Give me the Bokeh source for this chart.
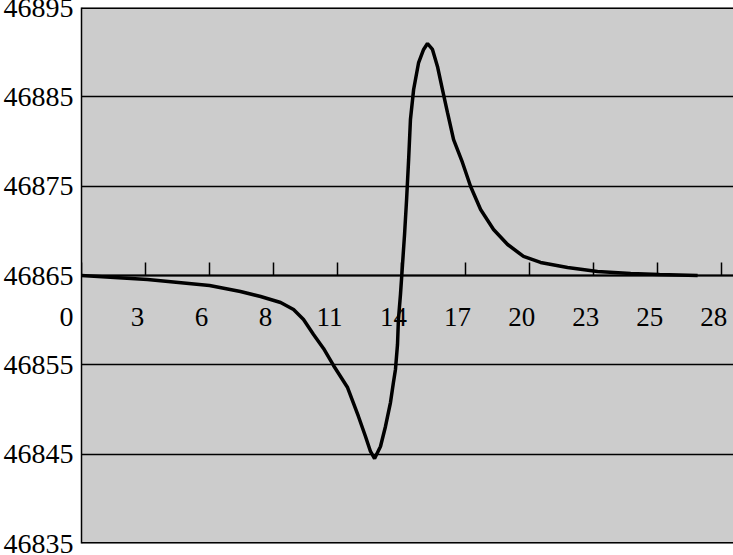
from bokeh.plotting import figure
from bokeh.models import LinearAxis, FixedTicker, Range1d, LabelSet, ColumnDataSource
from bokeh.embed import file_html
from bokeh.resources import INLINE

# curve
x_vals = [0.00, 2.91, 5.64, 7.00, 7.89, 8.77, 9.34, 9.78, 10.22, 10.66, 11.10, 11.72,
          12.20, 12.51, 12.73, 12.91, 13.17, 13.39, 13.61, 13.74, 13.83, 13.92, 13.96,
          14.05, 14.14, 14.23, 14.32, 14.41, 14.49, 14.63, 14.85, 15.07, 15.24, 15.46,
          15.68, 15.90, 16.12, 16.39, 16.78, 17.14, 17.58, 18.15, 18.77, 19.47, 20.22,
          21.41, 22.73, 24.19, 25.46, 27.14]
y_vals = [46865.00, 46864.55, 46863.88, 46863.21, 46862.65, 46861.98, 46861.19, 46860.07,
          46858.40, 46856.83, 46854.93, 46852.46, 46849.22, 46846.98, 46845.30, 46844.51,
          46845.86, 46848.10, 46850.78, 46853.02, 46854.48, 46857.28, 46860.07, 46862.87,
          46866.23, 46869.59, 46873.51, 46877.99, 46882.46, 46885.82, 46888.84, 46890.30,
          46890.97, 46890.30, 46888.40, 46885.82, 46883.25, 46880.22, 46877.65, 46874.96,
          46872.39, 46870.15, 46868.47, 46867.13, 46866.46, 46865.90, 46865.45, 46865.22,
          46865.11, 46865.00]

x_ticks = [0, 2.82, 5.64, 8.46, 11.28, 14.1, 16.92, 19.74, 22.56, 25.38, 28.2]
x_tick_labels = ["0", "3", "6", "8", "11", "14", "17", "20", "23", "25", "28"]
y_ticks = [46835, 46845, 46855, 46865, 46875, 46885, 46895]
x_axis_at = 46865

FONT = "Liberation Serif"
FRAME_H = 536  # pixels of the plotting area height

p = figure(width=733, height=555, output_backend="svg", toolbar_location=None,
           x_range=Range1d(0, 28.72), y_range=Range1d(46835, 46895),
           x_axis_location=None, y_axis_location="left",
           min_border_top=7, min_border_bottom=12, min_border_right=0, min_border_left=81)
p.background_fill_color = "#cccccc"
p.border_fill_color = "white"
p.outline_line_color = None

# frame top/bottom lines and grid lines
p.ygrid.ticker = FixedTicker(ticks=y_ticks)
p.ygrid.grid_line_color = "black"
p.ygrid.grid_line_width = 1.5
p.xgrid.visible = False
p.hspan(y=[y_ticks[0], y_ticks[-1]], line_color="black", line_width=3)

p.line(x_vals, y_vals, line_color="black", line_width=3.5)

# the "0" of the category axis sits just left of the frame, under 46865
zero_y = round(x_axis_at - 42 * (y_ticks[-1] - y_ticks[0]) / FRAME_H, 2)

# y axis
ya = p.yaxis[0]
ya.ticker = FixedTicker(ticks=y_ticks + [zero_y])
ya.major_label_overrides = {zero_y: x_tick_labels[0]}
ya.major_tick_out = 0
ya.major_tick_in = 0
ya.minor_tick_out = 0
ya.minor_tick_in = 0
ya.axis_line_color = "black"
ya.axis_line_width = 1.5
ya.major_label_text_font = FONT
ya.major_label_text_font_size = "28px"
ya.major_label_text_color = "black"
ya.major_label_standoff = 8

# x axis crossing at 46865 (line and ticks)
xa = LinearAxis(fixed_location=x_axis_at)
xa.ticker = FixedTicker(ticks=x_ticks)
xa.major_label_overrides = {t: "" for t in x_ticks}
xa.major_tick_in = 13
xa.major_tick_out = 0
xa.minor_tick_in = 0
xa.minor_tick_out = 0
xa.major_tick_line_width = 1.5
xa.major_tick_line_color = "black"
xa.axis_line_color = "black"
xa.axis_line_width = 2
p.add_layout(xa, "below")

# x tick labels below the crossing axis
lab_src = ColumnDataSource(dict(x=x_ticks[1:], y=[x_axis_at] * (len(x_ticks) - 1),
                                text=x_tick_labels[1:]))
labels = LabelSet(x="x", y="y", text="text", source=lab_src,
                  x_offset=-8, y_offset=-32, text_align="center", text_baseline="top",
                  text_font=FONT, text_font_size="27px", text_color="black")
p.add_layout(labels)

open("out.html", "w").write(file_html(p, INLINE))
